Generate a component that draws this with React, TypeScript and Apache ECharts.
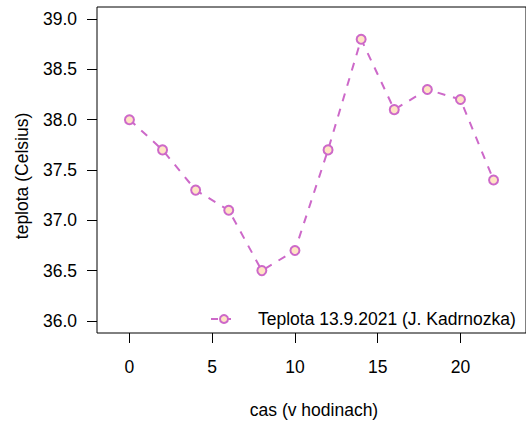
import React, { useEffect, useRef } from "react";
import * as echarts from "echarts";

const hours = [0, 2, 4, 6, 8, 10, 12, 14, 16, 18, 20, 22];
const temps = [38.0, 37.7, 37.3, 37.1, 36.5, 36.7, 37.7, 38.8, 38.1, 38.3, 38.2, 37.4];
const xTicks = [0, 5, 10, 15, 20];
const yTicks = [36.0, 36.5, 37.0, 37.5, 38.0, 38.5, 39.0];
const seriesName = "Teplota 13.9.2021 (J. Kadrnozka)";
const xTitle = "cas (v hodinach)";
const yTitle = "teplota (Celsius)";

const FONT = "Liberation Sans, Arial, Helvetica, sans-serif";
const LINE_COLOR = "#CD69C9";
const FILL_COLOR = "#FFE4C4";

export default function App() {
  const ref = useRef<HTMLDivElement>(null);
  useEffect(() => {
    if (!ref.current) return;
    const chart = echarts.init(ref.current, null, { renderer: "svg" });
    chart.setOption({
      animation: false,
      backgroundColor: "#ffffff",
      grid: {
        left: 97,
        top: 7,
        width: 434,
        height: 326,
        show: true,
        borderColor: "#000000",
        borderWidth: 1,
        backgroundColor: "transparent",
      },
      xAxis: {
        type: "value",
        min: -1.96,
        max: 23.96,
        splitLine: { show: false },
        axisLine: { show: false, onZero: false },
        axisTick: {
          show: true,
          length: 10,
          customValues: xTicks,
          lineStyle: { color: "#000000", width: 1 },
        },
        axisLabel: {
          customValues: xTicks,
          margin: 25,
          color: "#000000",
          fontSize: 17.5,
          fontFamily: FONT,
          formatter: (v: number) => String(v),
        },
      },
      yAxis: {
        type: "value",
        min: 35.88,
        max: 39.12,
        splitLine: { show: false },
        axisLine: { show: false, onZero: false },
        axisTick: {
          show: true,
          length: 10,
          customValues: yTicks,
          lineStyle: { color: "#000000", width: 1 },
        },
        axisLabel: {
          customValues: yTicks,
          margin: 20,
          color: "#000000",
          fontSize: 17.5,
          fontFamily: FONT,
          formatter: (v: number) => v.toFixed(1),
        },
      },
      legend: {
        left: 205,
        top: 305,
        itemWidth: 26,
        itemHeight: 10,
        data: [seriesName],
        lineStyle: { type: [7, 6] },
        textStyle: {
          color: "#000000",
          fontSize: 17.5,
          fontFamily: FONT,
          padding: [0, 0, 0, 16],
        },
      },
      series: [
        {
          name: seriesName,
          type: "line",
          data: hours.map((h, i) => [h, temps[i]]),
          symbol: "circle",
          symbolSize: 9,
          lineStyle: { color: LINE_COLOR, width: 2, type: [8, 8] },
          itemStyle: { color: FILL_COLOR, borderColor: LINE_COLOR, borderWidth: 2 },
          emphasis: { disabled: true },
        },
      ],
      graphic: [
        {
          type: "text",
          x: 314,
          y: 410,
          style: {
            text: xTitle,
            fill: "#000000",
            fontSize: 17.5,
            fontFamily: FONT,
            textAlign: "center",
            textVerticalAlign: "middle",
          },
        },
        {
          type: "text",
          x: 21.5,
          y: 176,
          rotation: Math.PI / 2,
          style: {
            text: yTitle,
            fill: "#000000",
            fontSize: 17.5,
            fontFamily: FONT,
            textAlign: "center",
            textVerticalAlign: "middle",
          },
        },
      ],
    });
    return () => chart.dispose();
  }, []);
  return (
    <div
      ref={ref}
      style={{ position: "absolute", left: 0, top: 0, width: 526, height: 422 }}
    />
  );
}
